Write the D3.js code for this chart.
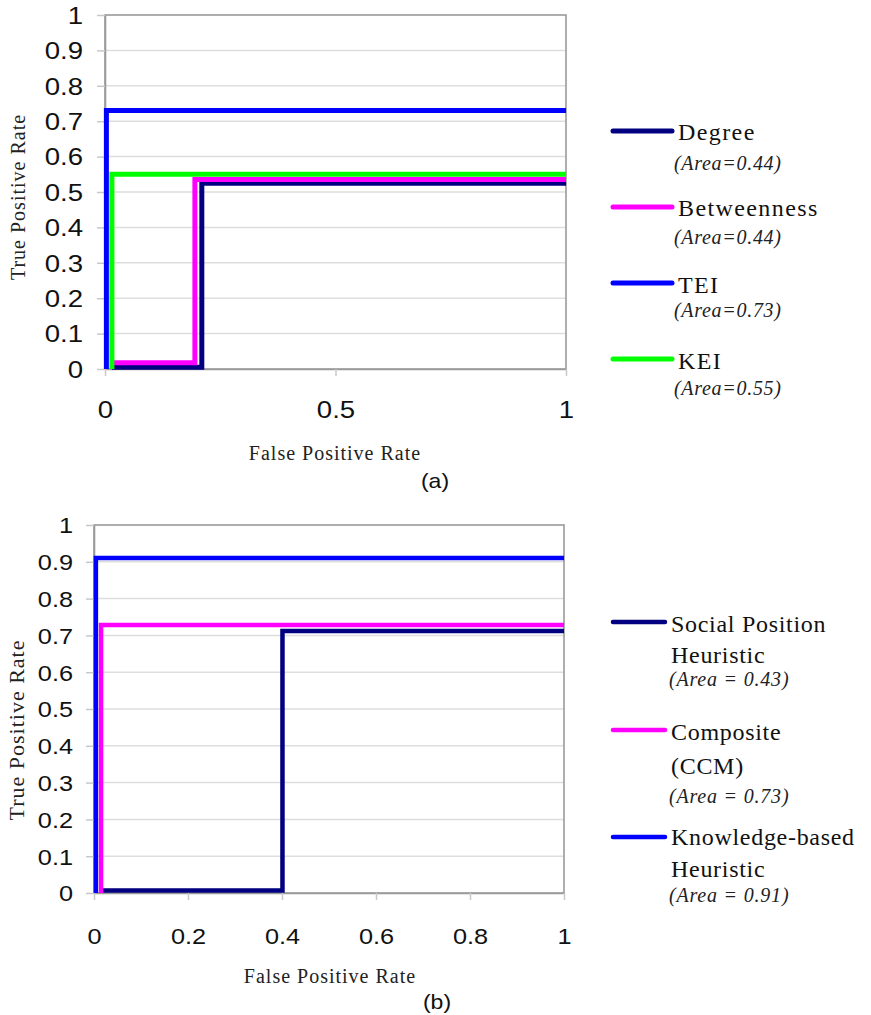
<!DOCTYPE html>
<html>
<head>
<meta charset="utf-8">
<script src="https://cdn.jsdelivr.net/npm/d3@7/dist/d3.min.js"></script>
<style>
  html, body { margin: 0; padding: 0; background: #fff; }
  svg { display: block; }
</style>
</head>
<body>
<svg id="chart" width="871" height="1015"></svg>
<script>
// ---------- DATA ----------
// Panel (a)
const yTicksA = [0, 0.1, 0.2, 0.3, 0.4, 0.5, 0.6, 0.7, 0.8, 0.9, 1];
const yTickLabelsA = ["0", "0.1", "0.2", "0.3", "0.4", "0.5", "0.6", "0.7", "0.8", "0.9", "1"];
const xTicksA = [0, 0.5, 1];
const xTickLabelsA = ["0", "0.5", "1"];
const seriesNamesA = ["Degree", "Betweenness", "TEI", "KEI"];
const seriesAreasA = ["(Area=0.44)", "(Area=0.44)", "(Area=0.73)", "(Area=0.55)"];
const degreeA = [[0.015, 0.005], [0.21, 0.005], [0.21, 0.525], [1, 0.525]];
const betweennessA = [[0.015, 0.018], [0.195, 0.018], [0.195, 0.535], [1, 0.535]];
const teiA = [[0.003, 0], [0.003, 0.73], [1, 0.73]];
const keiA = [[0.015, 0], [0.015, 0.55], [1, 0.55]];

// Panel (b)
const yTicksB = [0, 0.1, 0.2, 0.3, 0.4, 0.5, 0.6, 0.7, 0.8, 0.9, 1];
const yTickLabelsB = ["0", "0.1", "0.2", "0.3", "0.4", "0.5", "0.6", "0.7", "0.8", "0.9", "1"];
const xTicksB = [0, 0.2, 0.4, 0.6, 0.8, 1];
const xTickLabelsB = ["0", "0.2", "0.4", "0.6", "0.8", "1"];
const seriesNamesB = [["Social Position", "Heuristic"], ["Composite", "(CCM)"], ["Knowledge-based", "Heuristic"]];
const seriesAreasB = ["(Area = 0.43)", "(Area = 0.73)", "(Area = 0.91)"];
const socialB = [[0.018, 0.007], [0.401, 0.007], [0.401, 0.712], [1, 0.712]];
const compositeB = [[0.015, 0], [0.015, 0.728], [1, 0.728]];
const knowledgeB = [[0.004, 0], [0.004, 0.91], [1, 0.91]];

// ---------- STYLE ----------
const colorsA = ["#000080", "#ff00ff", "#0000ff", "#00ff00"];
const colorsB = ["#000080", "#ff00ff", "#0000ff"];
const SANS = "'Liberation Sans', Arial, sans-serif";
const SERIF = "'Liberation Serif', 'Times New Roman', serif";

const svg = d3.select("#chart");

function drawPanel(cfg) {
  const x = d3.scaleLinear().domain([0, 1]).range([cfg.left, cfg.right]);
  const y = d3.scaleLinear().domain([0, 1]).range([cfg.bottom, cfg.top]);
  const g = svg.append("g");

  // gridlines
  g.append("g").selectAll("line").data(cfg.yTicks.filter(d => d > 0 && d < 1)).join("line")
    .attr("x1", cfg.left).attr("x2", cfg.right)
    .attr("y1", d => y(d)).attr("y2", d => y(d))
    .attr("stroke", "#dedede").attr("stroke-width", 1.5);

  // plot border
  g.append("rect")
    .attr("x", cfg.left).attr("y", cfg.top)
    .attr("width", cfg.right - cfg.left).attr("height", cfg.bottom - cfg.top)
    .attr("fill", "none").attr("stroke", "#9a9a9a").attr("stroke-width", 1.6);

  // y axis
  const yAxis = d3.axisLeft(y).tickValues(cfg.yTicks)
    .tickFormat((d, i) => cfg.yLabels[i]).tickSize(8).tickSizeOuter(0);
  const ya = g.append("g").attr("transform", `translate(${cfg.left},0)`).call(yAxis);
  ya.select(".domain").attr("stroke", "#9a9a9a").attr("stroke-width", 1.6);
  ya.selectAll(".tick line").attr("stroke", "#c8c8c8").attr("stroke-width", 1.5);
  ya.selectAll(".tick text")
    .attr("x", 0).attr("dy", "0.36em")
    .attr("transform", `translate(${-cfg.yLabelGap},0) scale(${cfg.sx},1)`)
    .attr("font-family", SANS).attr("font-size", cfg.tickFont).attr("fill", "#111");

  // x axis
  const xAxis = d3.axisBottom(x).tickValues(cfg.xTicks)
    .tickFormat((d, i) => cfg.xLabels[i]).tickSize(7).tickSizeOuter(0);
  const xa = g.append("g").attr("transform", `translate(0,${cfg.bottom})`).call(xAxis);
  xa.select(".domain").attr("stroke", "#9a9a9a").attr("stroke-width", 1.6);
  xa.selectAll(".tick line").attr("stroke", "#c8c8c8").attr("stroke-width", 1.5);
  xa.selectAll(".tick text")
    .attr("y", 0).attr("dy", 0)
    .attr("transform", `translate(0,${cfg.xLabelBase}) scale(${cfg.sx},1)`)
    .attr("font-family", SANS).attr("font-size", cfg.tickFont).attr("fill", "#111");

  // series
  const line = d3.line().x(d => x(d[0])).y(d => y(d[1]));
  cfg.series.forEach((s, i) => {
    g.append("path").datum(s).attr("d", line)
      .attr("fill", "none").attr("stroke", cfg.colors[i])
      .attr("stroke-width", cfg.lineWidth).attr("stroke-linejoin", "miter");
  });

  // axis titles
  g.append("text")
    .attr("transform", `translate(${cfg.yTitleX},${cfg.yTitleY}) rotate(-90)`)
    .attr("text-anchor", "middle").attr("font-family", SERIF)
    .attr("font-size", cfg.yTitleFont).attr("letter-spacing", cfg.titleSpacing).attr("fill", "#222")
    .text("True Positive Rate");
  g.append("text")
    .attr("x", cfg.xTitleX).attr("y", cfg.xTitleY)
    .attr("text-anchor", "middle").attr("font-family", SERIF)
    .attr("font-size", 20).attr("letter-spacing", 1).attr("fill", "#222")
    .text("False Positive Rate");
  g.append("text")
    .attr("transform", `translate(${cfg.tagX},${cfg.tagY}) scale(1.15,1)`)
    .attr("text-anchor", "middle").attr("font-family", SANS)
    .attr("font-size", 20).attr("fill", "#111")
    .text(cfg.tag);
}

drawPanel({
  left: 105, right: 566, top: 15, bottom: 369,
  yTicks: yTicksA, yLabels: yTickLabelsA, xTicks: xTicksA, xLabels: xTickLabelsA,
  series: [degreeA, betweennessA, teiA, keiA], colors: colorsA, lineWidth: 5,
  tickFont: 23, sx: 1.2, yLabelGap: 22, xLabelBase: 49,
  yTitleX: 25, yTitleY: 197, yTitleFont: 20, titleSpacing: 1,
  xTitleX: 335, xTitleY: 460, tagX: 435, tagY: 488, tag: "(a)"
});

drawPanel({
  left: 94, right: 564, top: 525, bottom: 893,
  yTicks: yTicksB, yLabels: yTickLabelsB, xTicks: xTicksB, xLabels: xTickLabelsB,
  series: [socialB, compositeB, knowledgeB], colors: colorsB, lineWidth: 4.5,
  tickFont: 22, sx: 1.15, yLabelGap: 21, xLabelBase: 51,
  yTitleX: 24, yTitleY: 730, yTitleFont: 22, titleSpacing: 1,
  xTitleX: 330, xTitleY: 983, tagX: 437, tagY: 1009, tag: "(b)"
});

// ---------- LEGENDS ----------
const legA = svg.append("g");
const legARows = [
  { line: 131, name: 140, area: 170 },
  { line: 207, name: 216, area: 244 },
  { line: 283, name: 293, area: 317 },
  { line: 359, name: 369, area: 395 }
];
seriesNamesA.forEach((n, i) => {
  const r = legARows[i];
  legA.append("line").attr("x1", 613).attr("x2", 672).attr("y1", r.line).attr("y2", r.line)
    .attr("stroke", colorsA[i]).attr("stroke-width", 5).attr("stroke-linecap", "round");
  legA.append("text").attr("x", 678).attr("y", r.name)
    .attr("font-family", SERIF).attr("font-size", 24).attr("letter-spacing", 1.4).attr("fill", "#111")
    .text(n);
  legA.append("text").attr("x", 674).attr("y", r.area)
    .attr("font-family", SERIF).attr("font-style", "italic").attr("font-size", 20)
    .attr("letter-spacing", 0.7).attr("fill", "#222")
    .text(seriesAreasA[i]);
});

const legB = svg.append("g");
const legBRows = [
  { line: 622, names: [632, 663], area: 686 },
  { line: 730, names: [740, 774], area: 803 },
  { line: 837, names: [845, 877], area: 902 }
];
seriesNamesB.forEach((n, i) => {
  const r = legBRows[i];
  legB.append("line").attr("x1", 613).attr("x2", 665).attr("y1", r.line).attr("y2", r.line)
    .attr("stroke", colorsB[i]).attr("stroke-width", 4.5).attr("stroke-linecap", "round");
  n.forEach((s, j) => {
    legB.append("text").attr("x", 671).attr("y", r.names[j])
      .attr("font-family", SERIF).attr("font-size", 24).attr("letter-spacing", 0.7).attr("fill", "#111")
      .text(s);
  });
  legB.append("text").attr("x", 669).attr("y", r.area)
    .attr("font-family", SERIF).attr("font-style", "italic").attr("font-size", 20)
    .attr("letter-spacing", 0.8).attr("fill", "#222")
    .text(seriesAreasB[i]);
});
</script>
</body>
</html>
